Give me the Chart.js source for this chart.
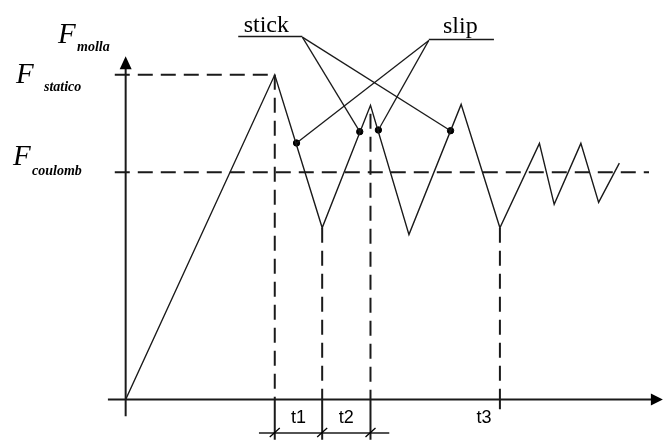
<!DOCTYPE html>
<html>
<head>
<meta charset="utf-8">
<script src="https://cdn.jsdelivr.net/npm/chart.js@4"></script>
<style>
html,body{margin:0;padding:0;background:#fff;}
#wrap{width:672px;height:444px;}
</style>
</head>
<body>
<div id="wrap"><canvas id="c" width="672" height="444"></canvas></div>
<script>
// ---- data (abstract units: time t, spring force F) ----
const T = [0, 10, 13.18, 16.42, 19.0, 22.5, 25.1, 27.75, 28.74, 30.53, 31.72, 33.11];
const F = [0, 10, 5.29, 9.06, 5.08, 9.09, 5.29, 7.89, 6.01, 7.89, 6.07, 7.28];
const F_STATICO = 10;
const F_COULOMB = 7;
const markTimes = [10, 13.18, 16.42, 25.1];      // vertical dashed lines
const markFrom  = [10, 5.29, 8.8, 5.29];         // top of each vertical
const intervalLabels = ['t1', 't2', 't3'];
const stickT = [15.70, 21.79];
const stickF = [8.25, 8.28];
const slipT  = [11.46, 16.95];
const slipF  = [7.9, 8.3];

const pts = (xs, ys) => xs.map((x, i) => ({x, y: ys[i]}));
const seg = (x1, y1, x2, y2) => [{x: x1, y: y1}, {x: x2, y: y2}];
const INK = '#1a1a1a';
const datasets = [];
function addLine(data, width, dash) {
  datasets.push({type: 'line', data, borderColor: INK, borderWidth: width,
    borderDash: dash || [], pointRadius: 0, tension: 0, fill: false});
}
// axes
addLine(seg(0, -0.51, 0, 10.2), 2);
addLine(seg(-1.19, 0, 35.7, 0), 2);
// horizontal dashed levels
addLine(seg(-0.73, F_STATICO, T[1], F_STATICO), 2, [15, 8]);
addLine(seg(-0.73, F_COULOMB, 35.1, F_COULOMB), 2, [15, 8]);
// vertical dashed marks
markTimes.forEach((t, i) => {
  addLine(seg(t, markFrom[i], t, 0), 2, [15, 8]);
  addLine(seg(t, 0, t, i < 3 ? -1.3 : -0.3), 2);
});
// interval dimension line
addLine(seg(8.94, -1.03, 17.68, -1.03), 1.5);
// leaders
addLine(seg(7.55, 11.18, 11.85, 11.18), 1.5);
stickT.forEach((t, i) => addLine(seg(11.85, 11.16, t, stickF[i]), 1.3));
addLine(seg(20.33, 11.09, 24.70, 11.09), 1.5);
slipT.forEach((t, i) => addLine(seg(20.33, 11.06, t, slipF[i]), 1.3));
// main force curve
addLine(pts(T, F), 1.4);
// marker dots
datasets.push({type: 'scatter', data: pts(stickT.concat(slipT), stickF.concat(slipF)),
  backgroundColor: '#000', borderColor: '#000', pointRadius: 3.2, pointHoverRadius: 3.2});

const annot = {
  id: 'annot',
  afterDatasetsDraw(chart) {
    const ctx = chart.ctx, xs = chart.scales.x, ys = chart.scales.y;
    const X = v => xs.getPixelForValue(v), Y = v => ys.getPixelForValue(v);
    ctx.save();
    ctx.fillStyle = '#000'; ctx.strokeStyle = '#000';
    // arrowheads
    const ax = X(0), ayTop = Y(10.57);
    ctx.beginPath(); ctx.moveTo(ax, ayTop); ctx.lineTo(ax - 6, ayTop + 13); ctx.lineTo(ax + 6, ayTop + 13); ctx.closePath(); ctx.fill();
    const bx = X(36.03), by = Y(0);
    ctx.beginPath(); ctx.moveTo(bx, by); ctx.lineTo(bx - 12, by - 6); ctx.lineTo(bx - 12, by + 6); ctx.closePath(); ctx.fill();
    // dimension slashes
    ctx.lineWidth = 1.3;
    markTimes.slice(0, 3).forEach(t => {
      const px = X(t), py = Y(-1.03);
      ctx.beginPath(); ctx.moveTo(px - 5, py + 4); ctx.lineTo(px + 5, py - 5); ctx.stroke();
    });
    // interval labels
    ctx.font = '18px "Liberation Sans", Arial, sans-serif';
    ctx.textAlign = 'center'; ctx.textBaseline = 'middle';
    const ly = Y(0) + 18;
    ctx.fillText(intervalLabels[0], (X(markTimes[0]) + X(markTimes[1])) / 2, ly);
    ctx.fillText(intervalLabels[1], (X(markTimes[1]) + X(markTimes[2])) / 2, ly);
    ctx.fillText(intervalLabels[2], X(markTimes[3]) - 16, ly);
    // stick / slip words
    ctx.font = '24px "Liberation Serif", "DejaVu Serif", serif';
    ctx.textAlign = 'center'; ctx.textBaseline = 'alphabetic';
    ctx.fillText('stick', (X(7.55) + X(11.85)) / 2 - 4, Y(11.18) - 5);
    ctx.fillText('slip', (X(20.33) + X(24.70)) / 2 - 1, Y(11.09) - 6);
    // F labels
    function fLabel(sub, xLeft, yBase, subDx, subDy) {
      ctx.textAlign = 'left'; ctx.textBaseline = 'alphabetic';
      ctx.font = 'italic 29px "Liberation Serif", "DejaVu Serif", serif';
      ctx.fillText('F', xLeft, yBase);
      ctx.font = 'italic bold 14px "Liberation Serif", "DejaVu Serif", serif';
      ctx.fillText(sub, xLeft + subDx, yBase + subDy);
    }
    fLabel('molla', 58, Y(11.0) + 1, 19, 8);
    fLabel('statico', 16, Y(F_STATICO) + 8, 28, 8);
    fLabel('coulomb', 13, Y(F_COULOMB) - 7, 19, 10);
    ctx.restore();
  }
};

new Chart(document.getElementById('c'), {
  data: {datasets},
  options: {
    responsive: false, animation: false,
    layout: {padding: 0},
    plugins: {legend: {display: false}, tooltip: {enabled: false}},
    scales: {
      x: {type: 'linear', display: false, min: -8.146, max: 36.36},
      y: {type: 'linear', display: false, min: -1.239, max: 12.175}
    }
  },
  plugins: [annot]
});
</script>
</body>
</html>
